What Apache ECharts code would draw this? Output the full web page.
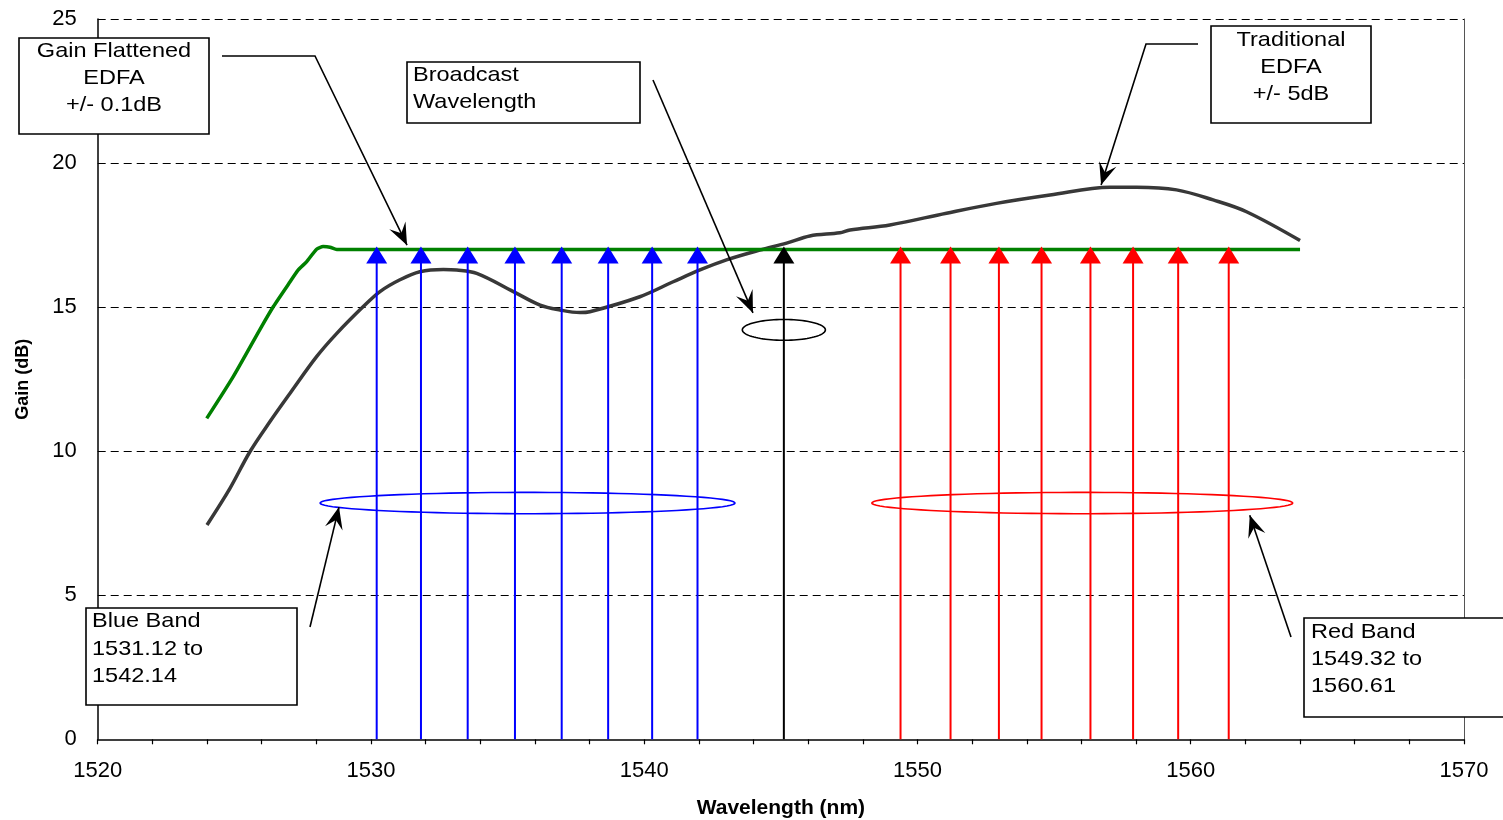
<!DOCTYPE html>
<html>
<head>
<meta charset="utf-8">
<script src="https://cdn.jsdelivr.net/npm/echarts@6/dist/echarts.min.js"></script>
<style>
html,body{margin:0;padding:0;background:#fff;}
#chart{width:1503px;height:820px;}
</style>
</head>
<body>
<div id="chart"></div>
<script>
// ---- data ----
const tradWl   = [1524.0,1524.84,1525.57,1526.3,1527.04,1528.01,1528.75,1529.72,1530.33,1531.06,1531.79,1532.65,1533.14,1533.87,1535.21,1536.19,1536.92,1537.65,1538.01,1539.84,1541.06,1542.04,1543.01,1544.23,1545.21,1546.06,1547.16,1547.53,1548.99,1551.06,1552.89,1554.85,1557.04,1558.02,1559.48,1560.82,1562.04,1564.0];
const tradGain = [7.44,8.71,9.98,11.02,12.01,13.28,14.09,15.02,15.54,15.95,16.23,16.31,16.29,16.17,15.54,15.07,14.9,14.81,14.84,15.36,15.88,16.29,16.64,16.98,17.22,17.47,17.58,17.68,17.85,18.26,18.6,18.89,19.16,19.16,19.07,18.72,18.31,17.31];
const flatWl   = [1523.99,1524.96,1525.94,1526.43,1527.04,1527.34,1527.65,1528.01,1528.25,1528.5,1528.75,1564.0];
const flatGain = [11.14,12.59,14.23,15.02,15.88,16.29,16.58,17.01,17.1,17.08,17.0,17.0];
const blueChannels  = [1530.21,1531.83,1533.54,1535.27,1536.98,1538.68,1540.29,1541.95];
const broadcastChannel = [1545.11];
const redChannels   = [1549.38,1551.21,1552.98,1554.54,1556.33,1557.89,1559.54,1561.39];
const channelLevel = 17.1;
const xTicks = [1520,1530,1540,1550,1560,1570];
const yTicks = [0,5,10,15,20,25];

const FONT = '"Liberation Sans", Arial, sans-serif';
const chart = echarts.init(document.getElementById('chart'));

function pairs(xs, ys){ return xs.map((x,i)=>[x, ys[i]]); }
function chanData(list){ return list.map(x=>[x, channelLevel]); }

function arrowItem(color){
  return function(params, api){
    const x = api.value(0), top = api.value(1);
    const p0 = api.coord([x, 0]);
    const p1 = api.coord([x, top]);
    const hl = 17, hw = 10.5;
    return {
      type: 'group',
      children: [
        {type:'line', shape:{x1:p0[0], y1:p0[1], x2:p1[0], y2:p1[1]+hl-2}, style:{stroke:color, lineWidth:2}},
        {type:'polygon', shape:{points:[[p1[0], p1[1]],[p1[0]-hw, p1[1]+hl],[p1[0]+hw, p1[1]+hl]]}, style:{fill:color}}
      ]
    };
  };
}

const option = {
  animation: false,
  backgroundColor: '#fff',
  grid: {left: 97.7, right: 39, top: 19, bottom: 80.7, containLabel: false, outerBoundsMode: 'none'},
  xAxis: {
    type: 'value', min: 1520, max: 1570, interval: 2,
    name: 'Wavelength (nm)', nameLocation: 'middle', nameGap: 58,
    nameTextStyle: {fontFamily: FONT, fontWeight: 'bold', fontSize: 21, color: '#000'},
    axisLine: {show: true, onZero: false, lineStyle: {color: '#000', width: 1.5}},
    axisTick: {show: true, inside: false, length: 5, lineStyle: {color: '#000', width: 1.2}},
    axisLabel: {
      fontFamily: FONT, fontSize: 22, color: '#000', margin: 21, hideOverlap: false, showMinLabel: true, showMaxLabel: true,
      formatter: v => xTicks.indexOf(Math.round(v)) >= 0 ? String(Math.round(v)) : ''
    },
    splitLine: {show: false}
  },
  yAxis: [{
    type: 'value', min: 0, max: 25, interval: 5,
    name: 'Gain (dB)', nameLocation: 'middle', nameGap: 66, nameRotate: 90,
    nameTextStyle: {fontFamily: FONT, fontWeight: 'bold', fontSize: 18, color: '#000'},
    axisLine: {show: true, lineStyle: {color: '#000', width: 1.5}},
    axisTick: {show: false},
    axisLabel: {fontFamily: FONT, fontSize: 22, color: '#000', margin: 21,
      formatter: v => yTicks.indexOf(v) >= 0 ? String(v) : ''},
    splitLine: {show: true, showMinLine: false, lineStyle: {color: '#000', width: 1, type: [8, 5]}}
  },{
    type: 'value', min: 0, max: 25, interval: 5, position: 'right',
    axisLine: {show: true, lineStyle: {color: '#555', width: 1}},
    axisTick: {show: false}, axisLabel: {show: false}, splitLine: {show: false}
  }],
  series: [
    {
      name: 'Traditional EDFA', type: 'line', data: pairs(tradWl, tradGain),
      showSymbol: false, smooth: 0.35, lineStyle: {color: '#383838', width: 3.5}, z: 3
    },
    {
      name: 'Gain Flattened EDFA', type: 'line', data: pairs(flatWl, flatGain),
      showSymbol: false, smooth: 0.2, lineStyle: {color: '#008000', width: 3.5}, z: 4
    },
    {name: 'Blue Band', type: 'custom', data: chanData(blueChannels), renderItem: arrowItem('#0000ff'), encode:{x:0,y:1}, z: 5, clip: false},
    {name: 'Broadcast', type: 'custom', data: chanData(broadcastChannel), renderItem: arrowItem('#000000'), encode:{x:0,y:1}, z: 5, clip: false},
    {name: 'Red Band', type: 'custom', data: chanData(redChannels), renderItem: arrowItem('#ff0000'), encode:{x:0,y:1}, z: 5, clip: false}
  ]
};
chart.setOption(option);

// ---- annotations ----
function px(x, y){ return chart.convertToPixel({gridIndex: 0}, [x, y]); }
function ellipse(cx, cy, rxNm, ryDb, color){
  const c = px(cx, cy), e = px(cx + rxNm, cy + ryDb);
  const rx = Math.abs(e[0]-c[0]), ry = Math.abs(e[1]-c[1]);
  const pts = [];
  for (let i = 0; i < 90; i++){ const a = i/90*Math.PI*2; pts.push([c[0]+rx*Math.cos(a), c[1]+ry*Math.sin(a)]); }
  return {type:'polygon', z: 50, shape:{points: pts}, style:{fill: 'none', stroke: color, lineWidth: 1.6}};
}
function arrowHead(from, tip){
  const dx = tip[0]-from[0], dy = tip[1]-from[1], d = Math.hypot(dx, dy);
  const ux = dx/d, uy = dy/d, nx = -uy, ny = ux, L = 22, W = 9;
  return {type:'polygon', z: 60, shape:{points:[
    tip,
    [tip[0]-ux*L+nx*W, tip[1]-uy*L+ny*W],
    [tip[0]-ux*L*0.6, tip[1]-uy*L*0.6],
    [tip[0]-ux*L-nx*W, tip[1]-uy*L-ny*W]
  ]}, style:{fill:'#000'}};
}
function leader(points){
  const tip = points[points.length-1], from = points[points.length-2];
  return [
    {type:'polyline', z: 60, shape:{points: points}, style:{stroke:'#000', lineWidth: 1.6, fill: 'none'}},
    arrowHead(from, tip)
  ];
}
function box(x, y, w, h, lines, tx, align, ys){
  const els = [{type:'rect', z: 70, shape:{x:x, y:y, width:w, height:h}, style:{fill:'#fff', stroke:'#000', lineWidth:1.6}}];
  lines.forEach((t, i) => els.push({type:'text', z: 71, x: tx, y: ys[i], scaleX: 1.12,
    style:{text:t, x:0, y:0, font:'21px ' + FONT, fill:'#000', align: align, verticalAlign:'middle'}}));
  return els;
}

const g = [];
g.push(ellipse(1535.73, 8.2, 7.59, 0.37, '#0000ff'));
g.push(ellipse(1556.03, 8.2, 7.70, 0.37, '#ff0000'));
g.push(ellipse(1545.11, 14.21, 1.52, 0.36, '#000000'));
g.push(...leader([[222,56],[315,56], px(1531.32, 17.15)]));
g.push(...leader([[653,80], px(1543.98, 14.8)]));
g.push(...leader([[1198,44],[1146,44], px(1556.72, 19.24)]));
g.push(...leader([[310,627], px(1528.83, 8.06)]));
g.push(...leader([[1291,637], px(1562.16, 7.78)]));
g.push(...box(19, 38, 190, 96, ['Gain Flattened','EDFA','+/- 0.1dB'], 114, 'center', [51, 78, 105]));
g.push(...box(407, 62, 233, 61, ['Broadcast','Wavelength'], 413, 'left', [75, 102]));
g.push(...box(1211, 26, 160, 97, ['Traditional','EDFA','+/- 5dB'], 1291, 'center', [40, 67, 94]));
g.push(...box(86, 608, 211, 97, ['Blue Band','1531.12 to','1542.14'], 92, 'left', [621, 649, 676]));
g.push(...box(1304, 618, 215, 99, ['Red Band','1549.32 to','1560.61'], 1311, 'left', [632, 659, 686]));

chart.setOption({graphic: {elements: g}});
</script>
</body>
</html>
